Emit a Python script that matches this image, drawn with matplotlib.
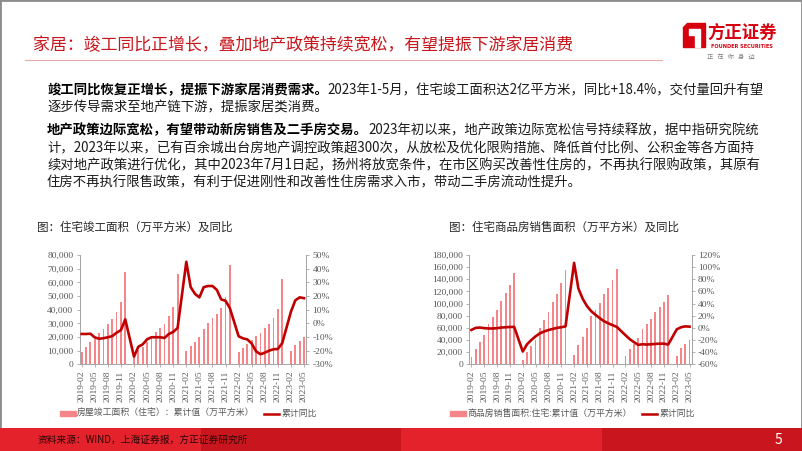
import numpy as np
import matplotlib
matplotlib.use('Agg')
import matplotlib.pyplot as plt
from matplotlib.patches import Rectangle, Polygon
from matplotlib.lines import Line2D
from matplotlib.ticker import FuncFormatter, MultipleLocator

plt.rcParams['font.family'] = ['Noto Sans CJK SC', 'DejaVu Sans']

nan = np.nan
_all = [f'{y}-{m:02d}' for y in range(2019, 2024) for m in range(1, 13)]
categories = _all[_all.index('2019-02'):_all.index('2023-05') + 1]
tick_labels = categories[::3]

# 住宅竣工面积 累计值(万平方米)
comp_area = [8800, 12900, 16100, 18300, 22700, 26100, 29300, 32900, 38300, 45400, 67800,
             nan, 7000, 10500, 12900, 16600, 19800, 23700, 26600, 29800, 35400, 42200, 65900,
             nan, 9800, 13700, 16600, 20000, 26100, 30000, 33700, 37000, 41500, 49000, 72700,
             nan, 8800, 12200, 14600, 17800, 20700, 23200, 26300, 29500, 33700, 40200, 62200,
             nan, 9800, 14100, 17300, 20200]
# 累计同比 (%)
comp_yoy = [-7.8, -7.8, -7.6, -10.3, -11.3, -10.9, -10.2, -9.4, -6.9, -5.0, 2.9,
            nan, -24.4, -17.1, -15.4, -11.7, -10.2, -10.2, -10.2, -10.7, -7.8, -6.3, -3.4,
            nan, 45.0, 26.5, 21.5, 19.0, 26.5, 27.3, 27.3, 24.5, 17.5, 16.5, 11.0,
            nan, -9.5, -11.0, -11.8, -14.8, -20.5, -22.6, -21.5, -20.0, -19.0, -18.8, -14.5,
            nan, 8.5, 16.8, 19.0, 18.4]

# 商品房销售面积:住宅 累计值(万平方米)
sales_area = [11500, 25800, 36300, 48400, 65900, 77500, 89600, 105000, 117000, 130800, 150100,
              nan, 7200, 19500, 29500, 40000, 60000, 73000, 86000, 103300, 116500, 133500, 154900,
              nan, 15400, 31500, 45000, 60000, 78900, 89800, 101000, 115000, 125500, 139500, 156500,
              nan, 13100, 26000, 33000, 42600, 58000, 65800, 74300, 85500, 94000, 102800, 114600,
              nan, 13300, 26100, 33000, 40600]
sales_yoy = [-3.4, 0.0, 0.5, -0.5, -1.0, -1.0, -0.5, 0.5, 1.0, 1.5, 1.5,
             nan, -39.0, -27.0, -20.0, -14.0, -9.0, -6.0, -3.5, -1.8, 0.0, 1.0, 2.5,
             nan, 107.0, 65.0, 48.0, 36.0, 27.5, 21.5, 16.0, 11.0, 7.5, 4.5, 1.5,
             nan, -12.0, -18.5, -23.5, -28.0, -27.0, -27.5, -27.0, -26.5, -26.0, -26.0, -27.5,
             nan, -2.5, 1.0, 2.5, 2.0]

title = '家居：竣工同比正增长，叠加地产政策持续宽松，有望提振下游家居消费'
chart1_title = '图：住宅竣工面积（万平方米）及同比'
chart2_title = '图：住宅商品房销售面积（万平方米）及同比'
legend1 = ['房屋竣工面积（住宅）：累计值（万平方米）', '累计同比']
legend2 = ['商品房销售面积:住宅:累计值（万平方米）', '累计同比']
para_lines = [
    ('竣工同比恢复正增长，提振下游家居消费需求。', '2023年1-5月，住宅竣工面积达2亿平方米，同比+18.4%，交付量回升有望'),
    ('', '逐步传导需求至地产链下游，提振家居类消费。'),
    ('地产政策边际宽松，有望带动新房销售及二手房交易。', '2023年初以来，地产政策边际宽松信号持续释放，据中指研究院统'),
    ('', '计，2023年以来，已有百余城出台房地产调控政策超300次，从放松及优化限购措施、降低首付比例、公积金等各方面持'),
    ('', '续对地产政策进行优化，其中2023年7月1日起，扬州将放宽条件，在市区购买改善性住房的，不再执行限购政策，其原有'),
    ('', '住房不再执行限售政策，有利于促进刚性和改善性住房需求入市，带动二手房流动性提升。'),
]
para_y = [90, 107, 130, 148, 165, 182]
source = '资料来源：WIND，上海证券报，方正证券研究所'

W, H = 802, 451
def fx(x): return x / W
def fy(y): return 1 - y / H

fig = plt.figure(figsize=(W / 100, H / 100), dpi=100)
fig.patch.set_facecolor('white')

RED = '#C8161D'
BAR = '#F4868A'
LINE = '#C00000'
GRAY = '#595959'
AX = '#A6A6A6'
serif = 'Liberation Serif'

def draw_chart(rect, area, yoy, ymax, ystep, rmin, rmax, rstep):
    ax = fig.add_axes(rect)
    x = np.arange(len(categories))
    a = np.array(area, dtype=float)
    y = np.array(yoy, dtype=float)
    ma = ~np.isnan(a)
    ax.bar(x[ma], a[ma], width=0.42, color=BAR, zorder=2)
    ax.set_xlim(-0.5, len(categories) - 0.5)
    ax.set_ylim(0, ymax)
    ax.yaxis.set_major_locator(MultipleLocator(ystep))
    ax.yaxis.set_major_formatter(FuncFormatter(lambda v, p: f'{int(v):,}'))
    ax.set_xticks(x[::3])
    ax.set_xticklabels(tick_labels, rotation=90, fontfamily=serif, fontsize=6.8, color=GRAY)
    for lab in ax.get_yticklabels():
        lab.set_fontfamily(serif)
    ax.tick_params(axis='y', labelsize=6.8, colors=GRAY, length=2.5, width=0.6, color=AX, pad=2)
    ax.tick_params(axis='x', length=2.5, width=0.6, color=AX, pad=2)
    ax.spines['top'].set_visible(False)
    for s in ['left', 'right', 'bottom']:
        ax.spines[s].set_color(AX)
        ax.spines[s].set_linewidth(0.7)
    ax.patch.set_alpha(0)
    ax2 = ax.twinx()
    my = ~np.isnan(y)
    ax2.plot(x[my], y[my], color=LINE, lw=1.9, solid_joinstyle='round', zorder=3)
    ax2.set_ylim(rmin, rmax)
    ax2.yaxis.set_major_locator(MultipleLocator(rstep))
    ax2.yaxis.set_major_formatter(FuncFormatter(lambda v, p: f'{int(round(v))}%'))
    ax2.tick_params(axis='y', labelsize=6.8, colors=GRAY, length=2.5, width=0.6, color=AX, pad=2)
    ax2.spines['top'].set_visible(False)
    for s in ['left', 'right', 'bottom']:
        ax2.spines[s].set_color(AX)
        ax2.spines[s].set_linewidth(0.7)
    for lab in ax2.get_yticklabels():
        lab.set_fontfamily(serif)
    return ax, ax2

draw_chart([fx(79.5), fy(364.3), (306.2 - 79.5) / W, (364.3 - 255) / H],
           comp_area, comp_yoy, 80000, 10000, -30, 50, 10)
draw_chart([fx(469.3), fy(364.3), (691.7 - 469.3) / W, (364.3 - 255) / H],
           sales_area, sales_yoy, 180000, 20000, -60, 120, 20)

# frame
fig.add_artist(Rectangle((0, 0), 1, 1, transform=fig.transFigure, fill=False,
                         edgecolor='#8C8C8C', lw=2.0))

# title
fig.text(fx(33), fy(45), title, fontsize=12.2, color=RED, va='center', ha='left')
fig.add_artist(Line2D([fx(25), fx(662)], [fy(59.5), fy(59.5)], transform=fig.transFigure,
                      color='#EBA7A9', lw=0.8))

# logo
fig.add_artist(Polygon([(fx(687), fy(23)), (fx(705), fy(23)), (fx(705), fy(47)),
                        (fx(683), fy(47)), (fx(683), fy(27))], closed=True,
                       transform=fig.transFigure, color='#D7000F'))
fig.add_artist(Polygon([(fx(689), fy(29)), (fx(700), fy(29)), (fx(700), fy(47)),
                        (fx(695), fy(47)), (fx(695), fy(35)), (fx(689), fy(35))], closed=True,
                       transform=fig.transFigure, color='white'))
fig.text(fx(707), fy(32.5), '方正证券', fontsize=12.5, fontweight='bold', color='#D7000F',
         va='center', ha='left')
fig.text(fx(741.5), fy(46.5), 'FOUNDER SECURITIES', fontsize=3.6, fontweight='bold',
         color='#D7000F', va='center', ha='center', fontfamily='DejaVu Sans')
fig.text(fx(731), fy(57), '正   在   你   身   边', fontsize=4.5, color='#808080',
         va='center', ha='center')

# paragraphs
fig.canvas.draw()
r = fig.canvas.get_renderer()
for (b, n), yy in zip(para_lines, para_y):
    x0 = fx(47)
    if b:
        t = fig.text(x0, fy(yy), b, fontsize=9.6, fontweight='bold', color='black', va='center')
        bb = t.get_window_extent(renderer=r)
        x0 = bb.x1 / fig.bbox.width
    fig.text(x0, fy(yy), n, fontsize=9.6, color='#1a1a1a', va='center')

# chart titles
fig.text(fx(37), fy(227), chart1_title, fontsize=8.3, color='#262626', va='center')
fig.text(fx(449), fy(227), chart2_title, fontsize=8.3, color='#262626', va='center')

# legends
def legend(x, texts, gap):
    fig.add_artist(Rectangle((fx(x), fy(416)), 16 / W, 5 / H, transform=fig.transFigure,
                             color=BAR))
    t = fig.text(fx(x + 17), fy(413.5), texts[0], fontsize=6.4, color=GRAY, va='center')
    bb = t.get_window_extent(renderer=r)
    lx = bb.x1 + gap
    fig.add_artist(Line2D([lx / W, (lx + 15) / W], [fy(413.5), fy(413.5)],
                          transform=fig.transFigure, color=LINE, lw=1.8))
    fig.text((lx + 18) / W, fy(413.5), texts[1], fontsize=6.4, color=GRAY, va='center')

legend(60, legend1, 9)
legend(450, legend2, 10)

# footer
seg_cols = ['#E3222B', '#C9161E', '#E3222B', '#C9161E']
for i, c in enumerate(seg_cols):
    fig.add_artist(Rectangle((i * 0.25, 0), 0.25, (451 - 428) / H, transform=fig.transFigure,
                             color=c, lw=0))
fig.text(fx(38), fy(440), source, fontsize=7, color='#2b0505', va='center')
fig.text(fx(778), fy(440), '5', fontsize=10, color='white', va='center', ha='center')

fig.savefig('out.png', dpi=100)
